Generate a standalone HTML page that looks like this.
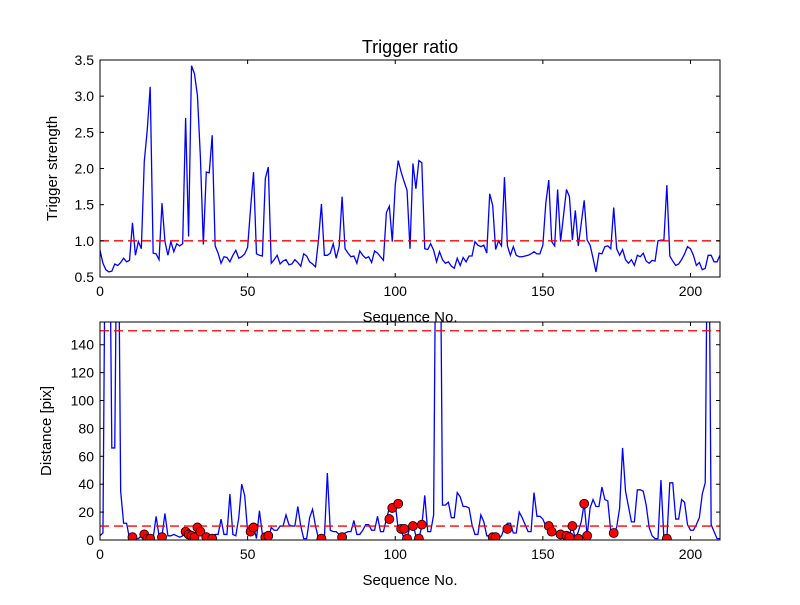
<!DOCTYPE html>
<html><head><meta charset="utf-8"><style>
body{margin:0;background:#fff}
svg text{font-family:"Liberation Sans","DejaVu Sans",sans-serif;fill:#000}
</style></head><body>
<svg id="c" width="800" height="600" xmlns="http://www.w3.org/2000/svg"></svg>
<script>
const ratioValues=[0.87,0.69,0.6,0.57,0.58,0.68,0.66,0.70,0.76,0.71,0.73,1.25,0.80,0.99,0.89,2.1,2.53,3.13,0.83,0.82,0.74,1.52,0.99,0.80,0.99,0.85,0.96,0.93,0.96,2.7,1.06,3.42,3.31,3.01,2.16,0.95,1.95,1.94,2.46,0.93,0.83,0.69,0.78,0.77,0.71,0.80,0.87,0.76,0.78,0.82,0.91,1.45,1.95,0.82,0.80,0.79,1.86,2.02,0.69,0.74,0.80,0.68,0.72,0.74,0.67,0.68,0.74,0.70,0.65,0.82,0.79,0.71,0.68,0.64,1.01,1.51,0.80,0.80,0.83,0.96,0.76,0.92,1.61,0.89,0.83,0.78,0.79,0.69,0.86,0.80,0.76,0.78,0.70,0.86,0.83,0.78,0.73,1.39,1.48,0.99,1.77,2.11,1.95,1.82,1.70,0.89,2.07,1.72,2.11,2.08,0.89,0.88,0.96,0.87,0.71,0.85,0.74,0.69,0.71,0.65,0.62,0.76,0.66,0.77,0.71,0.79,0.79,0.99,0.94,0.92,0.94,0.83,1.65,1.49,0.88,1.0,0.93,1.88,0.93,0.80,0.92,0.80,0.78,0.78,0.79,0.80,0.82,0.85,0.82,0.82,0.94,1.52,1.84,0.99,0.93,1.71,0.99,1.35,1.71,1.61,1.01,1.42,0.93,1.24,1.56,1.01,0.94,0.76,0.57,0.83,0.82,0.92,0.93,0.89,1.46,0.89,0.80,0.88,0.74,0.69,0.74,0.66,0.80,0.78,0.83,0.72,0.69,0.73,0.72,1.0,1.01,1.01,1.77,0.79,0.72,0.66,0.68,0.74,0.82,0.92,0.89,0.80,0.66,0.70,0.60,0.62,0.80,0.80,0.71,0.71,0.80];
const distValues=[3,5,300,300,66,66,300,35,12,12,1,1,1,1,3,4,1,3,1,17,3,3,19,3,3,4,3,2,3,6,4,3,4,8,6,4,4,4,3,4,4,15,4,4,33,4,3,16,40,32,6,9,10,1,21,4,1,1,9,7,7,10,10,18,11,10,10,24,10,1,1,16,22,10,1,1,1,48,7,6,6,4,3,5,6,6,14,4,4,7,11,11,7,7,17,6,6,15,23,25,26,8,7,1,1,10,11,3,1,10,32,6,6,18,300,300,25,25,27,16,16,34,31,24,24,23,11,4,4,18,13,3,3,1,1,1,3,9,12,12,5,5,20,16,11,6,6,34,17,17,15,10,6,6,6,5,3,1,1,4,10,1,6,13,26,3,23,29,24,24,38,29,28,6,5,9,23,66,35,24,13,13,36,36,35,25,9,3,1,1,43,1,1,41,41,15,15,29,27,11,7,7,11,16,33,41,300,11,6,1,1];
const markIdx=[11,15,16,17,21,29,30,31,32,33,34,36,38,51,52,56,57,75,82,98,99,101,102,103,104,106,108,109,133,134,138,152,153,156,158,159,160,162,164,165,174,192];
const markVal=[2,4,1,1,2,6,4,3,2,9,6,2,1,6,9,2,3,1,2,15,23,26,8,8,1,10,1,11,2,2,8,10,6,4,3,2,10,1,26,3,5,1];
const xTicks=[0,50,100,150,200];
const topTicks=[0.5,1.0,1.5,2.0,2.5,3.0,3.5];
const botTicks=[0,20,40,60,80,100,120,140];

const svg=document.getElementById('c');const NS='http://www.w3.org/2000/svg';
function mk(t,a,p){const e=document.createElementNS(NS,t);for(const k in a)e.setAttribute(k,a[k]);(p||svg).appendChild(e);return e;}
const L=100,R=720;
const sx=v=>L+(v/210)*(R-L);
const T1=60,B1=277,T2=322,B2=540;
const sy1=v=>B1-(v-0.5)/3*(B1-T1);
const sy2=v=>B2-v/156.3*(B2-T2);

function clip(id,top,bot){const d=mk('defs',{});const c=mk('clipPath',{id:id},d);mk('rect',{x:L,y:top,width:R-L,height:bot-top},c);}
clip('c1',T1,B1);clip('c2',T2,B2);

function axes(name,top,bot,ticks,sy,fmt,ylabel,ly){
  const g=mk('g',{});
  
  
  ticks.forEach(t=>{const y=sy(t);
    mk('line',{x1:L,x2:L+4,y1:y,y2:y,stroke:'#000'},g);
    mk('line',{x1:R,x2:R-4,y1:y,y2:y,stroke:'#000'},g);
    const tx=mk('text',{x:L-6,y:y+5,'text-anchor':'end','font-size':'14'},g);tx.textContent=fmt(t);
    
    
  });
  xTicks.forEach(t=>{const x=sx(t);
    mk('line',{x1:x,x2:x,y1:bot,y2:bot-4,stroke:'#000'},g);
    mk('line',{x1:x,x2:x,y1:top,y2:top+4,stroke:'#000'},g);
    const tx=mk('text',{x:x,y:bot+19,'text-anchor':'middle','font-size':'14'},g);tx.textContent=t;
    
    
  });
  const yl=mk('text',{x:0,y:0,'text-anchor':'middle','font-size':'15',transform:`translate(${ly},${(top+bot)/2}) rotate(-90)`},g);yl.textContent=ylabel;
  
  
  const xl=mk('text',{x:(L+R)/2,y:bot+45,'text-anchor':'middle','font-size':'15'},g);xl.textContent='Sequence No.';
  
  
}

const ttl=mk('text',{x:410,y:53,'text-anchor':'middle','font-size':'18'});ttl.textContent='Trigger ratio';



// top plot
const l1=mk('polyline',{points:ratioValues.map((v,i)=>sx(i)+','+sy1(v)).join(' '),fill:'none',stroke:'#0000ff','stroke-width':1.3,'clip-path':'url(#c1)'});


const th1=mk('line',{x1:L,x2:R,y1:sy1(1.0),y2:sy1(1.0),stroke:'#ff0000','stroke-width':1.3,'stroke-dasharray':'9,5'});


mk('rect',{x:L,y:T1,width:R-L,height:B1-T1,fill:'none',stroke:'#000'});
axes('top-axes',T1,B1,topTicks,sy1,t=>t.toFixed(1),'Trigger strength',57);

// bottom plot
const l2=mk('polyline',{points:distValues.map((v,i)=>sx(i)+','+sy2(v)).join(' '),fill:'none',stroke:'#0000ff','stroke-width':1.3,'clip-path':'url(#c2)'});


[10,150].forEach(v=>{const th=mk('line',{x1:L,x2:R,y1:sy2(v),y2:sy2(v),stroke:'#ff0000','stroke-width':1.3,'stroke-dasharray':'9,5'});
  
  });
markIdx.forEach((ix,k)=>{const c=mk('circle',{cx:sx(ix),cy:sy2(markVal[k]),r:4.5,fill:'#ff0000',stroke:'#000','stroke-width':0.8,'clip-path':'url(#c2)'});
  
  });
mk('rect',{x:L,y:T2,width:R-L,height:B2-T2,fill:'none',stroke:'#000'});
axes('bottom-axes',T2,B2,botTicks,sy2,t=>String(t),'Distance [pix]',51);
</script>
</body></html>
